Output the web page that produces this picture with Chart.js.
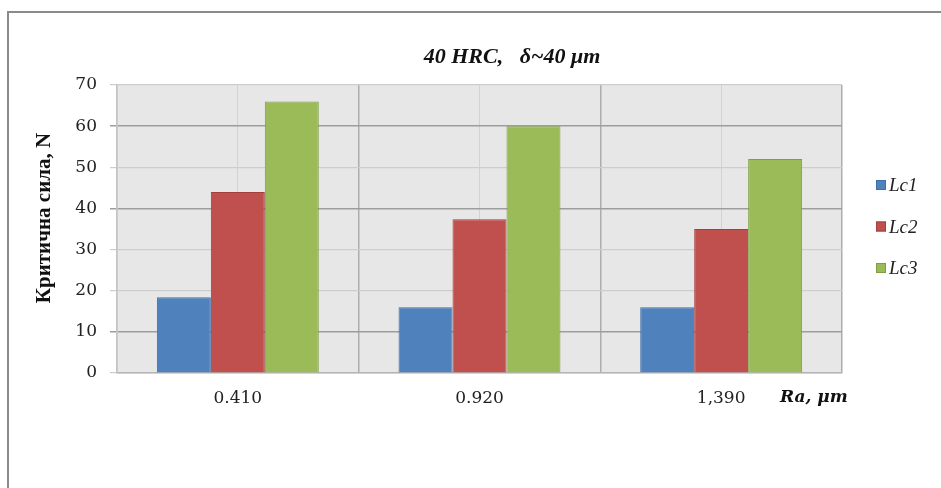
<!DOCTYPE html>
<html>
<head>
<meta charset="utf-8">
<script src="https://cdn.jsdelivr.net/npm/chart.js@4/dist/chart.umd.min.js"></script>
<style>
  html, body { margin: 0; padding: 0; background: #fff; }
  #wrap { width: 941px; height: 488px; position: relative; }
</style>
</head>
<body>
<div id="wrap"><canvas id="forceCanvas" width="941" height="488"></canvas></div>
<script>
// roughness values (x categories)
const categories = ["0.410", "0.920", "1,390"];
const seriesNames = ["Lc1", "Lc2", "Lc3"];
const lc1 = [18.4, 16, 16];
const lc2 = [44, 37.4, 35];
const lc3 = [66, 60, 52];
const yTicks = [0, 10, 20, 30, 40, 50, 60, 70];

const fills = ["#4f81bd", "#c0504d", "#9bbb59"];
const edges = ["#3e6ea6", "#a33f3c", "#7f9e43"];

const chartTitle = "40 HRC,   \u03b4~40 \u03bcm";
const yTitle = "Критична сила, N";
const xTitle = "Ra, \u03bcm";

// background, frame and free texts like the original office chart
const decor = {
  id: "decor",
  beforeDraw(chart) {
    const c = chart.ctx, a = chart.chartArea;
    c.save();
    c.fillStyle = "#e7e7e7";
    c.fillRect(a.left, a.top, a.right - a.left, a.bottom - a.top);
    c.restore();
  },
  afterDraw(chart) {
    const c = chart.ctx;
    c.save();
    // outer frame (left + top only visible)
    c.strokeStyle = "#8a8a8a";
    c.lineWidth = 2;
    c.beginPath();
    c.moveTo(8, 488);
    c.lineTo(8, 12);
    c.lineTo(941, 12);
    c.stroke();

    c.fillStyle = "#111";
    c.textAlign = "center";
    c.textBaseline = "middle";
    c.font = "italic bold 22px 'Liberation Serif'";
    c.fillText(chartTitle, 512, 57);

    c.font = "italic bold 17px 'DejaVu Serif'";
    c.textAlign = "left";
    c.fillText(xTitle, 780, 398);

    c.save();
    c.translate(45, 218);
    c.rotate(-Math.PI / 2);
    c.textAlign = "center";
    c.font = "bold 21px 'Liberation Serif'";
    c.fillText(yTitle, 0, 0);
    c.restore();

    // legend
    chart.data.datasets.forEach((ds, i) => {
      const y = 185 + i * 41.5;
      c.fillStyle = ds.backgroundColor;
      c.fillRect(876, y - 5, 10, 10);
      c.strokeStyle = ds.borderColor;
      c.lineWidth = 1;
      c.strokeRect(876.5, y - 4.5, 9, 9);
      c.fillStyle = "#222";
      c.textAlign = "left";
      c.font = "italic 19px 'Liberation Serif'";
      c.fillText(ds.label, 889, y + 1);
    });
    c.restore();
  }
};

const darkY = [10, 40, 60];

new Chart(document.getElementById("forceCanvas"), {
  type: "bar",
  data: {
    labels: categories,
    datasets: [
      { label: seriesNames[0], data: lc1, backgroundColor: fills[0], borderColor: edges[0], borderWidth: 1 },
      { label: seriesNames[1], data: lc2, backgroundColor: fills[1], borderColor: edges[1], borderWidth: 1 },
      { label: seriesNames[2], data: lc3, backgroundColor: fills[2], borderColor: edges[2], borderWidth: 1 }
    ]
  },
  options: {
    responsive: false,
    animation: false,
    devicePixelRatio: 1,
    categoryPercentage: 0.67,
    barPercentage: 1.0,
    layout: { padding: { left: 0, top: 85, right: 99, bottom: 0 } },
    plugins: { legend: { display: false }, tooltip: { enabled: false }, title: { display: false } },
    scales: {
      x: {
        offset: true,
        grid: { offset: true, drawTicks: false, color: ctx => (ctx.index === 0 || ctx.index === categories.length) ? "#c4c4c4" : "#adadad", lineWidth: 1.5 },
        border: { display: true, color: "#b4b4b4", width: 1.5 },
        ticks: { padding: 15, color: "#222", font: { family: "DejaVu Serif", size: 17 } },
        afterFit(scale) { scale.height = 115; }
      },
      xc: {
        type: "category",
        labels: categories,
        offset: true,
        position: "bottom",
        grid: { offset: false, drawTicks: false, color: "#d2d2d2", lineWidth: 1 },
        border: { display: false },
        ticks: { display: false },
        afterFit(scale) { scale.height = 0; }
      },
      y: {
        min: 0,
        max: 70,
        afterBuildTicks(scale) { scale.ticks = yTicks.map(v => ({ value: v })); },
        grid: {
          tickLength: 7,
          color: ctx => darkY.includes(ctx.tick.value) ? "#9d9d9d" : "#cdcdcd",
          lineWidth: ctx => darkY.includes(ctx.tick.value) ? 1.5 : 1.2
        },
        border: { display: true, color: "#c4c4c4", width: 1.5 },
        ticks: { padding: 13, color: "#222", font: { family: "DejaVu Serif", size: 17 } },
        afterFit(scale) { scale.width = 117; }
      }
    }
  },
  plugins: [decor]
});
</script>
</body>
</html>
